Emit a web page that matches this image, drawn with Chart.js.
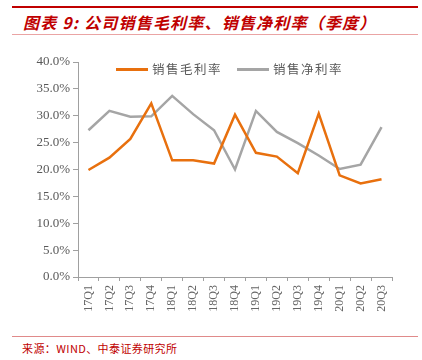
<!DOCTYPE html>
<html>
<head>
<meta charset="utf-8">
<script src="https://cdn.jsdelivr.net/npm/chart.js@4"></script>
<style>
  body { margin: 0; width: 422px; height: 360px; background: #fff; position: relative; overflow: hidden; font-family: "Noto Sans CJK SC", sans-serif; }
  .rule-top { position: absolute; left: 12px; top: 6px; width: 406px; height: 2px; background: #c00000; }
  .title { position: absolute; left: 23px; top: 12px; font-size: 16px; font-weight: bold; font-style: italic; color: #c00000; line-height: 20px; white-space: nowrap; letter-spacing: 1.2px; }
  .rule-thin { position: absolute; left: 12px; top: 34px; width: 406px; height: 1px; background: #eaa4a4; }
  .rule-bottom { position: absolute; left: 12px; top: 336px; width: 406px; height: 1px; background: #e08a8a; }
  .source { position: absolute; left: 22px; top: 340px; font-size: 11px; color: #c00000; line-height: 16px; white-space: nowrap; letter-spacing: 0.4px; }
  #wrap { position: absolute; left: 0; top: 40px; width: 422px; height: 295px; }
  .legend { position: absolute; top: 60px; font-size: 12.5px; color: #595959; letter-spacing: 1.5px; line-height: 18px; white-space: nowrap; }
  .legend span.sw { display: inline-block; width: 32px; height: 3px; vertical-align: middle; margin-right: 4px; position: relative; top: -1px; }
</style>
</head>
<body>
<div class="rule-top"></div>
<div class="title">图表 9: 公司销售毛利率、销售净利率（季度）</div>
<div class="rule-thin"></div>
<div id="wrap"><canvas id="chart"></canvas></div>
<div class="legend" style="left:116px"><span class="sw" style="background:#e8700e"></span>销售毛利率</div>
<div class="legend" style="left:237px"><span class="sw" style="background:#a5a5a5"></span>销售净利率</div>
<div class="rule-bottom"></div>
<div class="source">来源：WIND、中泰证券研究所</div>
<script>
// chart data
var quarters = ["17Q1", "17Q2", "17Q3", "17Q4", "18Q1", "18Q2", "18Q3", "18Q4",
                "19Q1", "19Q2", "19Q3", "19Q4", "20Q1", "20Q2", "20Q3"];
var grossMargin = [19.9, 22.2, 25.7, 32.3, 21.7, 21.7, 21.1, 30.2, 23.1, 22.4, 19.3, 30.4, 18.9, 17.4, 18.2];
var netMargin = [27.3, 30.9, 29.8, 29.9, 33.7, 30.3, 27.3, 20.0, 30.9, 27.0, 24.9, 22.6, 20.1, 20.9, 27.9];
var yTicks = [0, 5, 10, 15, 20, 25, 30, 35, 40];

var axisColor = "#a0a0a0";
var tickFont = { family: "'Liberation Serif', 'Times New Roman', serif", size: 13 };

var ctx = document.getElementById("chart").getContext("2d");
window.myLine = new Chart(ctx, {
    type: 'line',
    data: {
        labels: quarters,
        datasets: [
        {
            label: '销售毛利率',
            data: grossMargin,
            borderColor: "#e8700e",
            backgroundColor: "#e8700e",
            borderWidth: 2.5,
            pointRadius: 0,
            tension: 0
        },
        {
            label: '销售净利率',
            data: netMargin,
            borderColor: "#a5a5a5",
            backgroundColor: "#a5a5a5",
            borderWidth: 2.5,
            pointRadius: 0,
            tension: 0
        }]
    },
    options: {
        responsive: true,
        maintainAspectRatio: false,
        animation: false,
        layout: { padding: { left: 0, right: 30, top: 22, bottom: 0 } },
        plugins: {
            legend: { display: false },
            title: { display: false },
            tooltip: { enabled: false }
        },
        scales: {
            x: {
                offset: true,
                grid: { offset: true, drawOnChartArea: false, drawTicks: true, tickLength: 4, color: axisColor },
                border: { color: axisColor, width: 1 },
                ticks: {
                    autoSkip: false, minRotation: 90, maxRotation: 90, padding: 4,
                    color: "#666666", font: { family: tickFont.family, size: 12 }
                },
                afterFit: function(scale) { scale.height = 58; }
            },
            y: {
                min: 0,
                max: 40,
                afterBuildTicks: function(scale) {
                    scale.ticks = yTicks.map(function(v) { return { value: v }; });
                },
                grid: { drawOnChartArea: false, drawTicks: true, tickLength: 5, color: axisColor },
                border: { color: axisColor, width: 1 },
                ticks: {
                    padding: 3,
                    color: "#595959",
                    font: tickFont,
                    callback: function(v) { return v.toFixed(1) + '%'; }
                },
                afterFit: function(scale) { scale.width = 78; }
            }
        }
    }
});
</script>
</body>
</html>
